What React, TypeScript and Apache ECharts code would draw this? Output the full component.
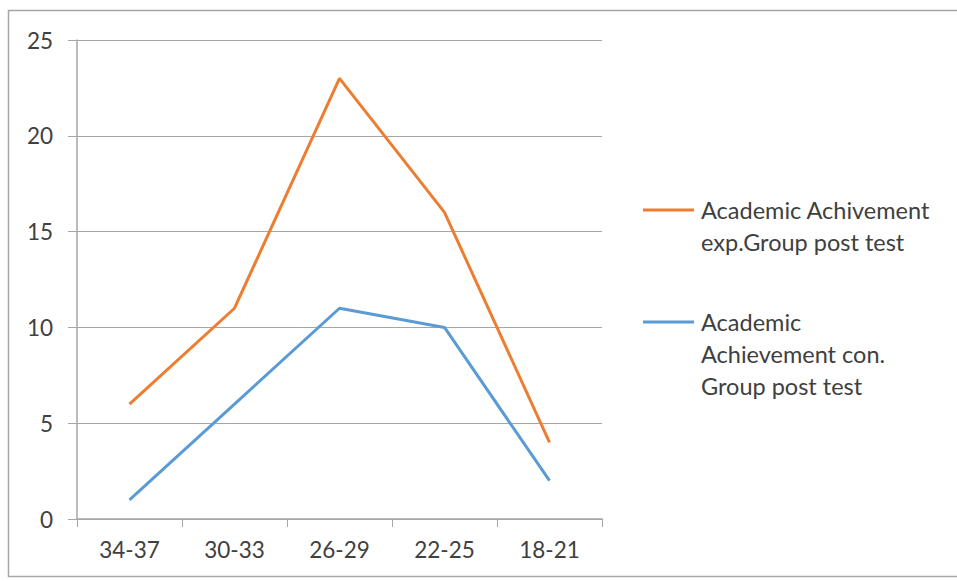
import React, { useEffect, useRef } from "react";
import * as echarts from "echarts";

const categories = ["34-37", "30-33", "26-29", "22-25", "18-21"];
const expValues = [6, 11, 23, 16, 4];
const conValues = [1, 6, 11, 10, 2];
const seriesNames = ["Academic Achivement exp.Group post test", "Academic Achievement con. Group post test"];
const legendLines = [
  ["Academic Achivement", "exp.Group post test"],
  ["Academic", "Achievement con.", "Group post test"],
];
const yTicks = { min: 0, max: 25, interval: 5 };

const FONT = "Lato, 'Open Sans', sans-serif";
const TXT = "#404040";
const ORANGE = "#ed7d31";
const BLUE = "#5b9bd5";

export default function App() {
  const ref = useRef<HTMLDivElement>(null);
  useEffect(() => {
    const chart = echarts.init(ref.current!, null, { renderer: "svg" });
    const legendGraphic: any[] = [];
    const colors = [ORANGE, BLUE];
    const legendY = [210, 322];
    legendLines.forEach((lines, i) => {
      legendGraphic.push({
        type: "line",
        shape: { x1: 643, y1: legendY[i], x2: 694, y2: legendY[i] },
        style: { stroke: colors[i], lineWidth: 3 },
      });
      legendGraphic.push({
        type: "text",
        x: 701,
        y: legendY[i] - 16,
        style: {
          text: lines.join("\n"),
          font: `23.5px ${FONT}`,
          fill: TXT,
          lineHeight: 32,
        },
      });
    });
    chart.setOption({
      animation: false,
      backgroundColor: "#fff",
      textStyle: { fontFamily: FONT },
      grid: { left: 77, top: 40, right: 355, bottom: 62 },
      xAxis: {
        type: "category",
        data: categories,
        boundaryGap: true,
        axisLine: { lineStyle: { color: "#a6a6a6", width: 1.5 } },
        axisTick: { show: true, length: 8, lineStyle: { color: "#a6a6a6" } },
        axisLabel: { color: TXT, fontSize: 22.5, margin: 19, fontFamily: FONT },
      },
      yAxis: {
        type: "value",
        min: yTicks.min,
        max: yTicks.max,
        interval: yTicks.interval,
        axisLine: { show: true, lineStyle: { color: "#a6a6a6", width: 1.5 } },
        axisTick: { show: true, length: 9, lineStyle: { color: "#a6a6a6" } },
        splitLine: { lineStyle: { color: "#a6a6a6", width: 1.2 } },
        axisLabel: { color: TXT, fontSize: 22.5, margin: 24, fontFamily: FONT },
      },
      series: [
        {
          name: seriesNames[0],
          type: "line",
          data: expValues,
          symbol: "none",
          lineStyle: { color: ORANGE, width: 3 },
          itemStyle: { color: ORANGE },
        },
        {
          name: seriesNames[1],
          type: "line",
          data: conValues,
          symbol: "none",
          lineStyle: { color: BLUE, width: 3 },
          itemStyle: { color: BLUE },
        },
      ],
      graphic: [
        {
          type: "rect",
          shape: { x: 8.5, y: 10.5, width: 960, height: 566 },
          style: { fill: "none", stroke: "#a6a6a6", lineWidth: 1.5 },
          silent: true,
        },
        ...legendGraphic,
      ],
    });
    return () => chart.dispose();
  }, []);
  return (
    <div
      ref={ref}
      style={{ position: "fixed", left: 0, top: 0, width: 957, height: 581 }}
    />
  );
}
